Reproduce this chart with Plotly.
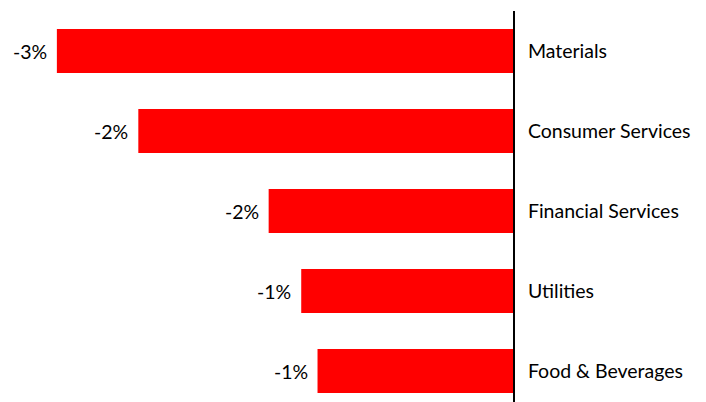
import plotly.graph_objects as go

categories = ["Materials", "Consumer Services", "Financial Services", "Utilities", "Food & Beverages"]
values = [-2.8, -2.3, -1.5, -1.3, -1.2]

FONT = "Lato"
SIZE = 19.5

fig = go.Figure(go.Bar(
    y=categories,
    x=values,
    orientation="h",
    marker=dict(color="#FF0000", line=dict(width=0)),
    hoverinfo="skip",
))

for cat, val in zip(categories, values):
    fig.add_annotation(
        x=val, y=cat, xref="x", yref="y",
        text=f"{val:.0f}%", showarrow=False,
        xanchor="right", yanchor="middle", xshift=-8,
        font=dict(family=FONT, size=SIZE, color="#000000"),
    )

fig.update_layout(
    width=706, height=402,
    margin=dict(l=0, r=201, t=3, b=8),
    paper_bgcolor="white", plot_bgcolor="white",
    bargap=0.45,
    showlegend=False,
    font=dict(family=FONT, size=SIZE, color="#000000"),
    xaxis=dict(range=[-3.10, 0], showgrid=False, zeroline=False,
               showticklabels=False, showline=False, fixedrange=True),
    yaxis=dict(side="right", categoryorder="array", categoryarray=categories,
               range=[4.3875, -0.5], showgrid=False, zeroline=False,
               showline=True, linecolor="#000000", linewidth=2,
               ticks="", ticklabelstandoff=9, automargin=False,
               tickfont=dict(family=FONT, size=SIZE, color="#000000")),
)

fig.write_html("out.html")
